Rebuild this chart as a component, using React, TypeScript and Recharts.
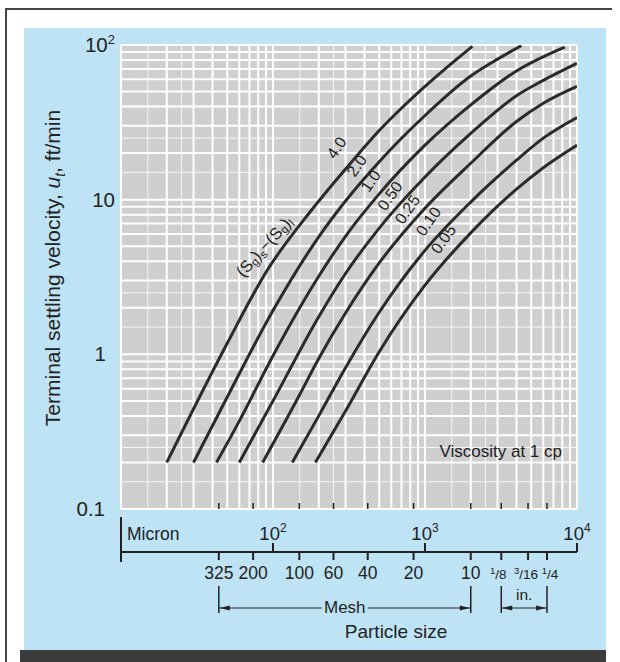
import React, { useRef } from 'react';
import { ComposedChart, Line, XAxis, YAxis, CartesianGrid, ReferenceDot } from 'recharts';

const FONT = '"Liberation Sans", Arial, Helvetica, sans-serif';
const INK = '#222222';
const CURVE_INK = '#2b2b2b';
const PANEL = '#bee3f5';
const PAPER = '#cfcfcf';

const PLOT_BOTTOM = 509;
const AXIS_LINE_Y = 552;

// axes: particle size in micron, terminal velocity in ft/min (both log)
const MICRON_TICKS = [10, 100, 1000, 10000];
const MICRON_POWERS = ['', '2', '3', '4'];
const VELOCITY_TICKS = [0.1, 1, 10, 100];
const VELOCITY_LABELS = ['0.1', '1', '10', '10'];
const VELOCITY_POWERS = ['', '', '', '2'];

// sieve openings (micron) for the mesh / inch scale under the axis
const MESH_MICRONS = [44, 74, 149, 250, 420, 841, 2000, 3175, 4763, 6350];
const MESH_LABELS = ['325', '200', '100', '60', '40', '20', '10', '1/8', '3/16', '1/4'];

// log paper rulings
const X_DECADES = [10, 100, 1000];
const Y_DECADES = [0.1, 1, 10];
const MAJOR_STEPS = [1, 2, 3, 4, 5, 6, 7, 8, 9];
const MINOR_STEPS = [1.5, 2.5];

// one curve per (Sg)s - (Sg)l, points are d (micron), ut (ft/min)
const SG_4_0 = [
  { d: 20, u: 0.2 }, { d: 50, u: 1.18 }, { d: 91, u: 3.46 }, { d: 180, u: 8.6 },
  { d: 330, u: 17.6 }, { d: 500, u: 28 }, { d: 700, u: 39 }, { d: 1000, u: 54 },
  { d: 1400, u: 72 }, { d: 2050, u: 98 },
];
const SG_2_0 = [
  { d: 30, u: 0.2 }, { d: 50, u: 0.53 }, { d: 100, u: 1.92 }, { d: 200, u: 5.75 },
  { d: 300, u: 9.8 }, { d: 500, u: 17.6 }, { d: 1000, u: 35 }, { d: 2000, u: 63 },
  { d: 3000, u: 81 }, { d: 4300, u: 99 },
];
const SG_1_0 = [
  { d: 42.5, u: 0.2 }, { d: 60, u: 0.37 }, { d: 100, u: 0.98 }, { d: 200, u: 3.2 },
  { d: 300, u: 5.8 }, { d: 500, u: 10.9 }, { d: 1000, u: 22.5 }, { d: 2000, u: 41 },
  { d: 4000, u: 68 }, { d: 8300, u: 97 },
];
const SG_0_50 = [
  { d: 60, u: 0.2 }, { d: 100, u: 0.5 }, { d: 200, u: 1.75 }, { d: 300, u: 3.33 },
  { d: 500, u: 6.55 }, { d: 1000, u: 14 }, { d: 2000, u: 26.8 }, { d: 4000, u: 47 },
  { d: 6000, u: 59 }, { d: 10000, u: 76 },
];
const SG_0_25 = [
  { d: 85.5, u: 0.2 }, { d: 150, u: 0.55 }, { d: 200, u: 0.94 }, { d: 300, u: 1.85 },
  { d: 500, u: 3.9 }, { d: 1000, u: 8.8 }, { d: 2000, u: 17.2 }, { d: 4000, u: 32 },
  { d: 6000, u: 42 }, { d: 10000, u: 54 },
];
const SG_0_10 = [
  { d: 134, u: 0.2 }, { d: 200, u: 0.4 }, { d: 300, u: 0.82 }, { d: 500, u: 1.87 },
  { d: 1000, u: 4.7 }, { d: 2000, u: 9.65 }, { d: 4000, u: 18 }, { d: 6000, u: 25 },
  { d: 10000, u: 34 },
];
const SG_0_05 = [
  { d: 190, u: 0.2 }, { d: 300, u: 0.43 }, { d: 500, u: 1.04 }, { d: 1000, u: 2.8 },
  { d: 2000, u: 6.1 }, { d: 4000, u: 11.7 }, { d: 6000, u: 16.1 }, { d: 10000, u: 22.5 },
];

const SG_NAMES = ['4.0', '2.0', '1.0', '0.50', '0.25', '0.10', '0.05'];
const SG_CURVES = [SG_4_0, SG_2_0, SG_1_0, SG_0_50, SG_0_25, SG_0_10, SG_0_05];
// where each curve's number sits (d, ut)
const LABEL_D = [262, 355, 439, 588, 765, 1052, 1320];
const LABEL_U = [21.7, 16.6, 13.2, 10.6, 8.65, 7.25, 5.55];

const rulings = (decades: number[], steps: number[], top?: number) => {
  const out = decades.flatMap((dec) => steps.map((s) => Number((dec * s).toPrecision(4))));
  return top ? [...out, top] : out;
};

const X_MAJOR = rulings(X_DECADES, MAJOR_STEPS, 10000);
const X_MINOR = rulings(X_DECADES, MINOR_STEPS);
const Y_MAJOR = rulings(Y_DECADES, MAJOR_STEPS, 100);
const Y_MINOR = rulings(Y_DECADES, MINOR_STEPS);

// every mark on the size axis: decades above the line, sieve sizes below it
const SIZE_TICKS = [...MICRON_TICKS, ...MESH_MICRONS].sort((a, b) => a - b);

// map ruling values through the axis scale that recharts hands the grid
const applyScale = (axis: any, values: number[]) => {
  const s = axis && axis.scale;
  if (!s) return [];
  return values.map((v) => (typeof s === 'function' ? s(v) : s.map(v)));
};
const xRulings = (values: number[]) => ({ xAxis }: any) => applyScale(xAxis, values);
const yRulings = (values: number[]) => ({ yAxis }: any) => applyScale(yAxis, values);

const Y_LABEL_RIGHT = [105, 106, 115, 115];
// small nudges so the inch fractions don't collide
const FRACTION_SHIFT: Record<string, number> = { '1/8': -3, '3/16': -2, '1/4': 3 };

const VelocityTick = (props: any) => {
  const { y, index } = props;
  return (
    <text x={Y_LABEL_RIGHT[index]} y={y + 7} textAnchor="end" fontFamily={FONT} fontSize={20.5} fill={INK}>
      {VELOCITY_LABELS[index]}
      {VELOCITY_POWERS[index] && <tspan fontSize={13} dy={-8}>{VELOCITY_POWERS[index]}</tspan>}
    </text>
  );
};

const Bracket = ({ x0, x1, text, above }: { x0: number; x1: number; text: string; above?: boolean }) => {
  const y = 608;
  const mid = (x0 + x1) / 2;
  const gap = above ? 0 : 23;
  return (
    <g>
      <line x1={x0} x2={mid - gap} y1={y} y2={y} stroke={INK} strokeWidth={1} />
      <line x1={mid + gap} x2={x1} y1={y} y2={y} stroke={INK} strokeWidth={1} />
      <polygon points={`${x0 + 1},${y} ${x0 + 11},${y - 2.5} ${x0 + 11},${y + 2.5}`} fill={INK} />
      <polygon points={`${x1 - 1},${y} ${x1 - 11},${y - 2.5} ${x1 - 11},${y + 2.5}`} fill={INK} />
      <text x={mid} y={above ? 600 : 613} textAnchor="middle" fontFamily={FONT} fontSize={above ? 15.5 : 17} fill={INK}>
        {text}
      </text>
    </g>
  );
};

const DecadeMark = ({ x, k, seen }: { x: number; k: number; seen: Record<number, number> }) => {
  if (k === 0) {
    return (
      <g>
        <line x1={x} x2={x} y1={517} y2={562} stroke={INK} strokeWidth={2} />
        <text x={x + 6} y={540} fontFamily={FONT} fontSize={17.5} fill={INK}>Micron</text>
      </g>
    );
  }
  return (
    <g>
      <line x1={x} x2={x} y1={AXIS_LINE_Y - 9} y2={AXIS_LINE_Y} stroke={INK} strokeWidth={2} />
      <text x={x} y={540} textAnchor="middle" fontFamily={FONT} fontSize={18.5} fill={INK}>
        10<tspan fontSize={12} dy={-8}>{MICRON_POWERS[k]}</tspan>
      </text>
      {k === MICRON_TICKS.length - 1 && (
        <line x1={seen[MICRON_TICKS[0]]} x2={x} y1={AXIS_LINE_Y} y2={AXIS_LINE_Y} stroke={INK} strokeWidth={2} />
      )}
    </g>
  );
};

const MeshMark = ({ x, k, seen }: { x: number; k: number; seen: Record<number, number> }) => {
  const label = MESH_LABELS[k];
  const [num, den] = label.split('/');
  return (
    <g>
      <line x1={x} x2={x} y1={PLOT_BOTTOM - 6} y2={PLOT_BOTTOM} stroke={INK} strokeWidth={1.5} />
      <line x1={x} x2={x} y1={AXIS_LINE_Y} y2={AXIS_LINE_Y + 8} stroke={INK} strokeWidth={2} />
      {den ? (
        <text x={x + (FRACTION_SHIFT[label] || 0)} y={579} textAnchor="middle" fontFamily={FONT} fill={INK}>
          <tspan fontSize={9.5} dy={-5}>{num}</tspan>
          <tspan fontSize={13.5} dy={5}>/{den}</tspan>
        </text>
      ) : (
        <text x={x} y={579} textAnchor="middle" fontFamily={FONT} fontSize={17.5} fill={INK}>{label}</text>
      )}
      {[0, 6, 7, 9].includes(k) && <line x1={x} x2={x} y1={586} y2={613} stroke={INK} strokeWidth={1.5} />}
      {k === 6 && <Bracket x0={seen[MESH_MICRONS[0]]} x1={x} text="Mesh" />}
      {k === 9 && <Bracket x0={seen[MESH_MICRONS[7]]} x1={x} text="in." above />}
    </g>
  );
};

const SizeTick = (props: any) => {
  const { x, payload, seen } = props;
  const v = payload.value;
  seen[v] = x;
  const k = MICRON_TICKS.indexOf(v);
  if (k >= 0) return <DecadeMark x={x} k={k} seen={seen} />;
  return <MeshMark x={x} k={MESH_MICRONS.indexOf(v)} seen={seen} />;
};

const CurveText = (props: any) => {
  const { cx, cy, text } = props;
  return (
    <text x={cx} y={cy} transform={`rotate(-55 ${cx} ${cy})`} textAnchor="middle" dominantBaseline="central"
      fontFamily={FONT} fontSize={16} fill={INK}>
      {text}
    </text>
  );
};

const SgText = (props: any) => {
  const { cx, cy } = props;
  return (
    <text x={cx} y={cy} transform={`rotate(-48 ${cx} ${cy})`} textAnchor="middle" dominantBaseline="central"
      fontFamily={FONT} fontSize={16.5} fill={INK}>
      (S<tspan fontSize={11.5} dy={4}>g</tspan><tspan dy={-4}>)</tspan>
      <tspan fontSize={11.5} dy={5}>s</tspan><tspan dy={-5}>−(S</tspan>
      <tspan fontSize={11.5} dy={4}>g</tspan><tspan dy={-4}>)</tspan>
      <tspan fontSize={11.5} dy={5}>l</tspan>
    </text>
  );
};

const logAxis = { type: 'number' as const, scale: 'log' as const, allowDataOverflow: true, interval: 0 as const };

export default function App() {
  const sizeX = useRef<Record<number, number>>({}).current;

  return (
    <div style={{ position: 'absolute', left: 0, top: 0, width: 620, height: 662, background: '#fff', overflow: 'hidden' }}>
      <div style={{ position: 'absolute', left: 5, top: 8, width: 607, height: 1.5, background: '#444' }} />
      <div style={{ position: 'absolute', left: 5, top: 8, width: 1.5, height: 654, background: '#444' }} />
      <div style={{ position: 'absolute', left: 24, top: 28, width: 582, height: 622, background: PANEL }} />
      <div style={{ position: 'absolute', left: 20, top: 650, width: 586, height: 12, background: '#3b3b3b' }} />
      <div style={{ position: 'absolute', left: 0, top: 0 }}>
        <ComposedChart width={620} height={662} margin={{ top: 45, right: 43, bottom: 0, left: 0 }}>
          <CartesianGrid xAxisId="d" yAxisId="u" fill={PAPER} fillOpacity={1} stroke="#ffffff" strokeWidth={2}
            verticalCoordinatesGenerator={xRulings(X_MAJOR)} horizontalCoordinatesGenerator={yRulings(Y_MAJOR)} />
          <CartesianGrid xAxisId="d" yAxisId="u" stroke="#ffffff" strokeWidth={1} strokeOpacity={0.8}
            verticalCoordinatesGenerator={xRulings(X_MINOR)} horizontalCoordinatesGenerator={yRulings(Y_MINOR)} />
          <XAxis xAxisId="d" dataKey="d" {...logAxis} domain={[10, 10000]} ticks={SIZE_TICKS} height={153}
            axisLine={false} tickLine={false} tick={<SizeTick seen={sizeX} />} />
          <YAxis yAxisId="u" dataKey="u" {...logAxis} domain={[0.1, 100]} ticks={VELOCITY_TICKS} width={121}
            axisLine={false} tickLine={false} tick={<VelocityTick />} />
          {SG_CURVES.map((data, i) => (
            <Line key={SG_NAMES[i]} data={data} dataKey="u" xAxisId="d" yAxisId="u" type="monotone"
              stroke={CURVE_INK} strokeWidth={3} dot={false} activeDot={false} isAnimationActive={false} />
          ))}
          {SG_NAMES.map((name, i) => (
            <ReferenceDot key={`lbl-${name}`} xAxisId="d" yAxisId="u" x={LABEL_D[i]} y={LABEL_U[i]} r={1}
              shape={<CurveText text={name} />} />
          ))}
          <ReferenceDot xAxisId="d" yAxisId="u" x={87} y={5.0} r={1} shape={<SgText />} />
        </ComposedChart>
      </div>
      <svg width={620} height={662} style={{ position: 'absolute', left: 0, top: 0, pointerEvents: 'none' }}>
        <text transform="translate(60,268) rotate(-90)" textAnchor="middle" fontFamily={FONT} fontSize={21} fill={INK}>
          Terminal settling velocity, <tspan fontStyle="italic">u</tspan>
          <tspan fontSize={14} fontStyle="italic" dy={5}>t</tspan>
          <tspan dy={-5}>, ft/min</tspan>
        </text>
        <text x={562} y={457} textAnchor="end" fontFamily={FONT} fontSize={17} fill={INK}>Viscosity at 1 cp</text>
        <text x={396} y={638} textAnchor="middle" fontFamily={FONT} fontSize={19} fill={INK}>Particle size</text>
      </svg>
    </div>
  );
}
